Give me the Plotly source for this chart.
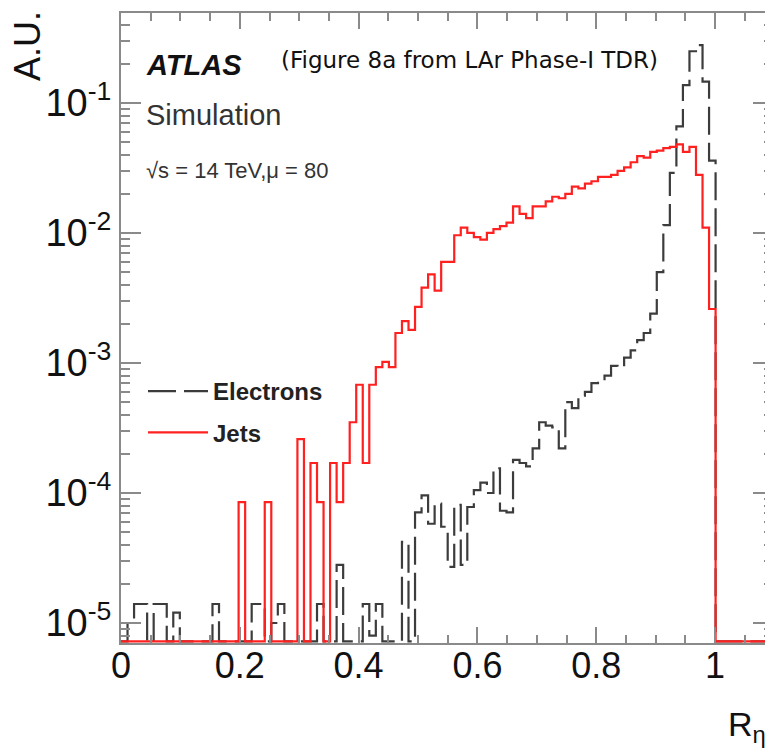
import numpy as np
import plotly.graph_objects as go

# Histogram binning: 100 bins over [0, 1.1]
n_bins = 100
x_lo, x_hi = 0.0, 1.1

# A.U. per bin (0 = empty bin)
electrons = [
    0, 1.0e-5, 1.4e-5, 1.4e-5, 0, 1.4e-5, 1.4e-5, 0, 1.2e-5, 0,
    0, 0, 0, 0, 1.4e-5, 0, 0, 0, 0, 0,
    1.4e-5, 1.4e-5, 0, 1.0e-5, 1.4e-5, 0, 0, 0, 0, 0,
    1.4e-5, 0, 0, 2.8e-5, 0, 0, 0, 1.4e-5, 8e-6, 1.4e-5,
    0, 0, 0, 4.2e-5, 0, 7.1e-5, 9.6e-5, 5.8e-5, 8.3e-5, 5.5e-5,
    2.7e-5, 8.1e-5, 2.8e-5, 7.8e-5, 1.05e-4, 1.2e-4, 1.0e-4, 1.55e-4, 7.3e-5, 7.1e-5,
    1.8e-4, 1.7e-4, 1.6e-4, 2.2e-4, 3.5e-4, 3.3e-4, 3.2e-4, 2.2e-4, 5.0e-4, 4.5e-4,
    5.6e-4, 6.0e-4, 7.0e-4, 7.2e-4, 8.0e-4, 9.5e-4, 9.3e-4, 1.1e-3, 1.25e-3, 1.5e-3,
    1.7e-3, 2.4e-3, 5.0e-3, 1.15e-2, 2.9e-2, 6.6e-2, 0.137, 0.25, 0.279, 0.146,
    0.036, 0, 0, 0, 0, 0, 0, 0, 0, 0,
]

jets = [
    0, 0, 0, 0, 0, 0, 0, 0, 0, 0,
    0, 0, 0, 0, 0, 0, 0, 0, 8.5e-5, 0,
    0, 0, 8.5e-5, 0, 0, 0, 0, 2.6e-4, 0, 1.7e-4,
    8.5e-5, 0, 1.7e-4, 8.5e-5, 1.7e-4, 3.5e-4, 6.8e-4, 1.7e-4, 6.8e-4, 9.3e-4,
    1.02e-3, 9.3e-4, 1.7e-3, 2.1e-3, 1.8e-3, 2.7e-3, 3.8e-3, 4.8e-3, 3.6e-3, 6.0e-3,
    6.0e-3, 9.6e-3, 1.1e-2, 1.0e-2, 9.3e-3, 8.9e-3, 1.0e-2, 1.07e-2, 1.13e-2, 1.2e-2,
    1.6e-2, 1.4e-2, 1.3e-2, 1.6e-2, 1.6e-2, 1.75e-2, 1.9e-2, 1.85e-2, 2.0e-2, 2.27e-2,
    2.2e-2, 2.4e-2, 2.5e-2, 2.7e-2, 2.7e-2, 2.8e-2, 3.0e-2, 3.2e-2, 3.5e-2, 3.9e-2,
    3.8e-2, 4.2e-2, 4.3e-2, 4.5e-2, 4.6e-2, 4.8e-2, 4.2e-2, 4.6e-2, 2.8e-2, 1.1e-2,
    2.6e-3, 0, 0, 0, 0, 0, 0, 0, 0, 0,
]

decade_labels = ["10<sup>-5</sup>", "10<sup>-4</sup>", "10<sup>-3</sup>",
                 "10<sup>-2</sup>", "10<sup>-1</sup>"]
decades = [1e-5, 1e-4, 1e-3, 1e-2, 1e-1]

# page has an 8px body margin: figure coords = page coords - 8
OFF = 8
W, H = 773 - OFF, 752 - OFF
L, T = 121 - OFF, 13 - OFF
B = H - (643 - OFF)
plot_w = W - L
plot_h = H - T - B
x_range = [0, plot_w / 594.0]
y_range = [-5.154, -0.308]

edges = np.linspace(x_lo, x_hi, n_bins + 1)
# empty bins are drawn along the frame bottom, like ROOT does
y_floor = 10 ** (y_range[0] + 0.012)


def steps(vals):
    v = np.array(vals, dtype=float)
    v = np.where(v > 0, v, y_floor)
    return np.append(v, v[-1])


def px_x(px):
    # page pixel -> paper fraction
    return (px - OFF - L) / plot_w


def px_y(py):
    return (H - B - (py - OFF)) / plot_h


axis_col = "#8a8a8a"
font_main = "Liberation Sans, Arial, sans-serif"

fig = go.Figure()

fig.add_trace(go.Scatter(
    x=edges, y=steps(electrons), mode="lines", line_shape="hv",
    name="Electrons", legendgroup="e",
    line=dict(color="#3c3c3c", width=2.2, dash="28px,8px"),
))
fig.add_trace(go.Scatter(
    x=edges, y=steps(jets), mode="lines", line_shape="hv",
    name="Jets", legendgroup="j",
    line=dict(color="#ff2020", width=2.2),
))

fig.update_layout(
    width=W, height=H,
    margin=dict(l=L, r=0, t=T, b=B, autoexpand=False),
    paper_bgcolor="white", plot_bgcolor="white",
    showlegend=True,
    legend=dict(
        x=px_x(143), y=px_y(369),
        xanchor="left", yanchor="top",
        bgcolor="rgba(0,0,0,0)", borderwidth=0,
        font=dict(family=font_main, size=24, color="#222", weight="bold"),
        itemwidth=60, tracegroupgap=7, traceorder="grouped",
    ),
    xaxis=dict(
        range=x_range, showgrid=False, zeroline=False, automargin=False,
        showline=True, linecolor=axis_col, linewidth=2, mirror="allticks",
        ticks="inside", ticklen=16, tickwidth=2, tickcolor=axis_col,
        tick0=0, dtick=0.2, ticklabelstandoff=-10,
        tickfont=dict(family=font_main, size=36, color="#111"),
        minor=dict(ticks="inside", ticklen=8, tickwidth=2, tickcolor=axis_col,
                   dtick=0.05, showgrid=False),
    ),
    yaxis=dict(
        type="log", range=y_range, showgrid=False, zeroline=False, automargin=False,
        showline=True, linecolor=axis_col, linewidth=2, mirror="allticks",
        ticks="inside", ticklen=20, tickwidth=2, tickcolor=axis_col,
        tickmode="array", tickvals=decades, ticktext=decade_labels,
        tickfont=dict(family=font_main, size=38, color="#111"),
        minor=dict(ticks="inside", ticklen=9, tickwidth=2, tickcolor=axis_col,
                   tickvals=[m * 10.0 ** e for e in range(-6, 0) for m in range(2, 10)],
                   showgrid=False),
    ),
)

annos = [
    dict(text="<b><i>ATLAS</i></b>", x=px_x(144), y=px_y(65),
         font=dict(family=font_main, size=29, color="#111")),
    dict(text="Simulation", x=px_x(144), y=px_y(115),
         font=dict(family=font_main, size=29, color="#333")),
    dict(text="\u221as = 14 TeV,\u03bc = 80", x=px_x(144), y=px_y(170),
         font=dict(family=font_main, size=22, color="#333")),
    dict(text="(Figure 8a from LAr Phase-I TDR)", x=px_x(279), y=px_y(60),
         font=dict(family="DejaVu Sans", size=23, color="#111")),
]
for a in annos:
    fig.add_annotation(xref="paper", yref="paper", xanchor="left", yanchor="middle",
                       showarrow=False, **a)

fig.add_annotation(text="A.U.", xref="paper", yref="paper", x=px_x(27), y=px_y(9),
                   xanchor="center", yanchor="top", textangle=-90, showarrow=False,
                   font=dict(family=font_main, size=36, color="#111"))
fig.add_annotation(text="R<sub>\u03b7</sub>", xref="paper", yref="paper",
                   x=px_x(726), y=px_y(726), xanchor="left", yanchor="middle",
                   showarrow=False, font=dict(family=font_main, size=34, color="#111"))

fig.write_html("out.html")
